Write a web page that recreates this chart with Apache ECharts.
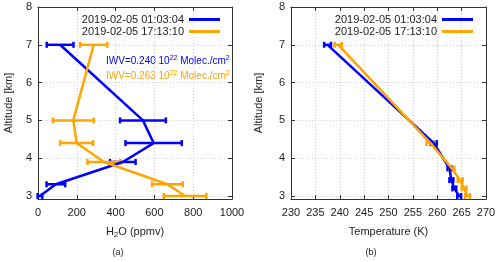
<!DOCTYPE html>
<html>
<head>
<meta charset="utf-8">
<script src="https://cdn.jsdelivr.net/npm/echarts@6/dist/echarts.min.js"></script>
<style>html,body{margin:0;padding:0;background:#fff}#c{width:500px;height:262px}</style>
</head>
<body>
<div id="c"></div>
<script>
// ---- data ----
const seriesNames = ['2019-02-05 01:03:04', '2019-02-05 17:13:10'];
const altH2O_A = [7.0, 5.0, 4.4, 3.9, 3.31, 3.0];
const h2o_A    = [114, 541, 596, 437, 92, 10];
const h2oErr_A = [69, 118, 145, 66, 48, 12];
const altH2O_B = [7.0, 5.0, 4.4, 3.9, 3.31, 3.0];
const h2o_B    = [287, 182, 199, 340, 667, 758];
const h2oErr_B = [70, 105, 85, 85, 79, 110];
const altT   = [7.0, 4.4, 3.73, 3.42, 3.2, 3.0];
const temp_A = [237.5, 259.3, 262.5, 262.9, 263.5, 264.5];
const tErr_A = [0.7, 0.6, 0.4, 0.4, 0.4, 0.4];
const temp_B = [239.7, 258.6, 263.0, 264.7, 265.5, 266.2];
const tErr_B = [0.75, 0.8, 0.5, 0.5, 0.5, 0.5];
const yTicks = [3, 4, 5, 6, 7, 8];
const iwvA = 'IWV=0.240 10';
const iwvB = 'IWV=0.263 10';

const BLUE = '#0000ff', ORANGE = '#ffa500';
const FONT = 'Liberation Sans, Arial, sans-serif';
const TXT = '#222';
const AX = '#333';

function pts(xs, ys) { return xs.map((x, i) => [x, ys[i]]); }
function errPts(xs, ys, es) { return xs.map((x, i) => [x, ys[i], es[i]]); }

function errRender(color) {
  return function (params, api) {
    const x = api.value(0), y = api.value(1), e = api.value(2);
    const a = api.coord([x - e, y]), b = api.coord([x + e, y]);
    const h = 3;
    const st = { stroke: color, lineWidth: 2.5 };
    return { type: 'group', children: [
      { type: 'line', shape: { x1: a[0], y1: a[1], x2: b[0], y2: b[1] }, style: st },
      { type: 'line', shape: { x1: a[0], y1: a[1] - h, x2: a[0], y2: a[1] + h }, style: st },
      { type: 'line', shape: { x1: b[0], y1: b[1] - h, x2: b[0], y2: b[1] + h }, style: st }
    ]};
  };
}

const splitStyle = { show: true, lineStyle: { color: '#d0d0d0', type: [1, 2], width: 1 } };
function xAxes(gi, min, max, interval, name) {
  return [
    { type: 'value', gridIndex: gi, min: min, max: max, interval: interval, position: 'bottom',
      axisLine: { show: true, onZero: false, lineStyle: { color: AX, width: 1 } },
      axisTick: { show: true, inside: true, length: 4, lineStyle: { color: AX } },
      axisLabel: { color: TXT, fontFamily: FONT, fontSize: 11, margin: 8, formatter: v => String(v) },
      splitLine: splitStyle,
      name: name, nameLocation: 'middle', nameGap: 33,
      nameTextStyle: { color: TXT, fontFamily: FONT, fontSize: 11, verticalAlign: 'middle',
        rich: { sub: { fontSize: 8, verticalAlign: 'bottom', padding: [6, 0, 0, 0], color: TXT, fontFamily: FONT } } } },
    { type: 'value', gridIndex: gi, min: min, max: max, interval: interval, position: 'top',
      axisLine: { show: true, onZero: false, lineStyle: { color: AX, width: 1 } },
      axisTick: { show: true, inside: true, length: 4, lineStyle: { color: AX } },
      axisLabel: { show: false }, splitLine: { show: false } }
  ];
}
function yAxes(gi, nameGap) {
  return [
    { type: 'value', gridIndex: gi, min: 2.92, max: 8, position: 'left',
      axisLine: { show: true, onZero: false, lineStyle: { color: AX, width: 1 } },
      axisTick: { show: true, inside: true, length: 4, customValues: yTicks, lineStyle: { color: AX } },
      axisLabel: { color: TXT, fontFamily: FONT, fontSize: 11, margin: 6, customValues: yTicks },
      splitLine: splitStyle,
      name: 'Altitude [km]', nameLocation: 'middle', nameGap: nameGap, nameRotate: 90,
      nameTextStyle: { color: TXT, fontFamily: FONT, fontSize: 11, verticalAlign: 'middle' } },
    { type: 'value', gridIndex: gi, min: 2.92, max: 8, position: 'right',
      axisLine: { show: true, onZero: false, lineStyle: { color: AX, width: 1 } },
      axisTick: { show: true, inside: true, length: 4, customValues: yTicks, lineStyle: { color: AX } },
      axisLabel: { show: false, customValues: yTicks }, splitLine: { show: false } }
  ];
}

const chart = echarts.init(document.getElementById('c'), null, { renderer: 'canvas' });
const legendCommon = {
  orient: 'vertical', align: 'right', padding: 0, itemGap: 1, itemWidth: 31, itemHeight: 3,
  icon: 'rect', textStyle: { color: TXT, fontFamily: FONT, fontSize: 11, lineHeight: 11 },
  selectedMode: false, data: seriesNames
};
const option = {
  animation: false,
  backgroundColor: '#fff',
  grid: [
    { left: 38, top: 7, width: 194, height: 192 },
    { left: 291, top: 7, width: 195, height: 192 }
  ],
  xAxis: [].concat(xAxes(0, 0, 1000, 200, 'H{sub|2}O (ppmv)'), xAxes(1, 230, 270, 5, 'Temperature (K)')),
  yAxis: [].concat(yAxes(0, 29), yAxes(1, 32)),
  legend: [
    Object.assign({ right: 280, top: 14 }, legendCommon),
    Object.assign({ right: 27, top: 14 }, legendCommon)
  ],
  series: [
    { name: seriesNames[0], type: 'line', xAxisIndex: 0, yAxisIndex: 0, data: pts(h2o_A, altH2O_A),
      showSymbol: false, lineStyle: { color: BLUE, width: 2.5 }, itemStyle: { color: BLUE } },
    { type: 'custom', xAxisIndex: 0, yAxisIndex: 0, data: errPts(h2o_A, altH2O_A, h2oErr_A),
      encode: { x: 0, y: 1 }, renderItem: errRender(BLUE) },
    { name: seriesNames[1], type: 'line', xAxisIndex: 0, yAxisIndex: 0, data: pts(h2o_B, altH2O_B),
      showSymbol: false, lineStyle: { color: ORANGE, width: 2.5 }, itemStyle: { color: ORANGE } },
    { type: 'custom', xAxisIndex: 0, yAxisIndex: 0, data: errPts(h2o_B, altH2O_B, h2oErr_B),
      encode: { x: 0, y: 1 }, renderItem: errRender(ORANGE) },
    { name: seriesNames[0], type: 'line', xAxisIndex: 2, yAxisIndex: 2, data: pts(temp_A, altT),
      showSymbol: false, lineStyle: { color: BLUE, width: 2.5 }, itemStyle: { color: BLUE } },
    { type: 'custom', xAxisIndex: 2, yAxisIndex: 2, data: errPts(temp_A, altT, tErr_A),
      encode: { x: 0, y: 1 }, renderItem: errRender(BLUE) },
    { name: seriesNames[1], type: 'line', xAxisIndex: 2, yAxisIndex: 2, data: pts(temp_B, altT),
      showSymbol: false, lineStyle: { color: ORANGE, width: 2.5 }, itemStyle: { color: ORANGE } },
    { type: 'custom', xAxisIndex: 2, yAxisIndex: 2, data: errPts(temp_B, altT, tErr_B),
      encode: { x: 0, y: 1 }, renderItem: errRender(ORANGE) }
  ],
  graphic: [
    { type: 'text', left: 106, top: 55, style: { text: iwvA + '{sup|22} Molec./cm{sup|2}', fill: BLUE, font: '10px ' + FONT,
      rich: { sup: { fontSize: 7, verticalAlign: 'top', padding: [0, 0, 5, 0], fill: BLUE, fontFamily: FONT } } } },
    { type: 'text', left: 106, top: 70, style: { text: iwvB + '{sup|22} Molec./cm{sup|2}', fill: ORANGE, font: '10px ' + FONT,
      rich: { sup: { fontSize: 7, verticalAlign: 'top', padding: [0, 0, 5, 0], fill: ORANGE, fontFamily: FONT } } } },
    { type: 'text', x: 118, y: 253, style: { text: '(a)', fill: TXT, font: '9px ' + FONT, align: 'center', verticalAlign: 'middle' } },
    { type: 'text', x: 371, y: 253, style: { text: '(b)', fill: TXT, font: '9px ' + FONT, align: 'center', verticalAlign: 'middle' } }
  ]
};
chart.setOption(option);
</script>
</body>
</html>
